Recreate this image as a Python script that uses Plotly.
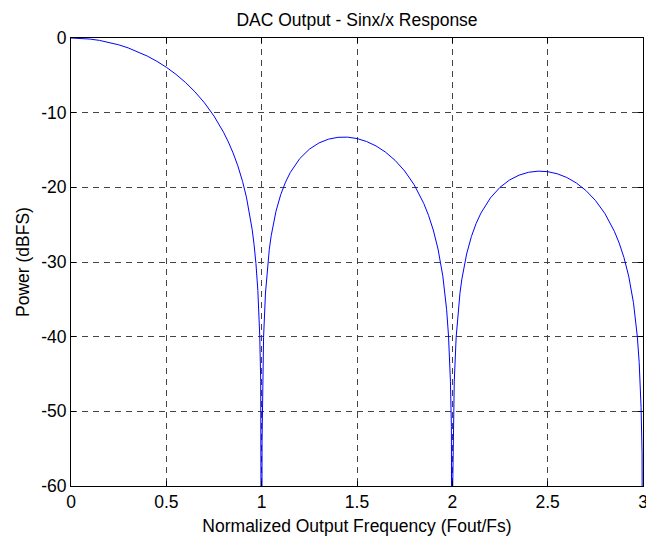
import plotly.graph_objects as go

# Normalized output frequency (Fout/Fs) and the DAC sinx/x power response in dBFS.
# The nulls at integer multiples of Fs are deep notches; they are stored as a
# floor value below the visible range so the trace runs off the bottom axis.
freq = [
    0.0, 0.05, 0.1, 0.15, 0.2, 0.25, 0.3, 0.35, 0.4, 0.45,
    0.5, 0.55, 0.6, 0.65, 0.7, 0.75, 0.8, 0.825, 0.85, 0.875,
    0.9, 0.92, 0.94, 0.95, 0.96, 0.97, 0.98, 0.99, 0.995, 0.998,
    1.0,
    1.002, 1.005, 1.01, 1.02, 1.03, 1.04, 1.05, 1.075, 1.1, 1.125,
    1.15, 1.2, 1.25, 1.3, 1.35, 1.4, 1.45, 1.5, 1.55, 1.6,
    1.65, 1.7, 1.75, 1.8, 1.85, 1.875, 1.9, 1.925, 1.95, 1.96,
    1.97, 1.98, 1.99, 1.995, 1.998,
    2.0,
    2.002, 2.005, 2.01, 2.02, 2.03, 2.04, 2.05, 2.075, 2.1, 2.125,
    2.15, 2.2, 2.25, 2.3, 2.35, 2.4, 2.45, 2.5, 2.55, 2.6,
    2.65, 2.7, 2.75, 2.8, 2.85, 2.875, 2.9, 2.925, 2.95, 2.96,
    2.97, 2.98, 2.99, 2.995,
    3.0,
]
power_dbfs = [
    0.0, -0.036, -0.143, -0.324, -0.579, -0.912, -1.326, -1.827, -2.420, -3.115,
    -3.922, -4.858, -5.942, -7.204, -8.686, -10.455, -12.620, -13.911, -15.390, -17.126,
    -19.228, -21.305, -23.951, -25.610, -27.627, -30.206, -33.809, -39.914, -45.978, -53.962,
    -100.0,
    -53.997, -46.065, -40.088, -34.157, -30.727, -28.322, -26.480, -23.208, -20.971, -19.309,
    -18.016, -16.142, -14.891, -14.063, -13.552, -13.302, -13.278, -13.465, -13.857, -14.461,
    -15.295, -16.393, -17.814, -19.664, -22.146, -23.746, -25.718, -28.268, -31.857, -33.827,
    -36.360, -39.919, -45.979, -52.020, -59.991,
    -100.0,
    -60.009, -52.063, -46.065, -40.092, -36.621, -34.175, -32.291, -28.920, -26.588, -24.833,
    -23.451, -21.407, -19.997, -19.018, -18.367, -17.983, -17.834, -17.902, -18.181, -18.678,
    -19.410, -20.411, -21.740, -23.502, -25.899, -27.459, -29.391, -31.902, -35.453, -37.407,
    -39.926, -43.470, -49.515, -55.549,
    -100.0,
]

x_ticks = [0, 0.5, 1, 1.5, 2, 2.5, 3]
x_tick_text = ["0", "0.5", "1", "1.5", "2", "2.5", "3"]
y_ticks = [-60, -50, -40, -30, -20, -10, 0]
y_tick_text = ["-60", "-50", "-40", "-30", "-20", "-10", "0"]

FONT = "Liberation Sans, Arial, Helvetica, sans-serif"
FONT_SIZE = 17.5

fig = go.Figure(
    go.Scatter(
        x=freq,
        y=power_dbfs,
        mode="lines",
        line=dict(color="#0000FF", width=1),
        hoverinfo="skip",
    )
)

axis_common = dict(
    automargin=False,
    showline=True,
    linecolor="black",
    linewidth=1,
    mirror="ticks",
    ticks="inside",
    ticklen=5,
    tickwidth=1,
    tickcolor="black",
    showgrid=True,
    gridcolor="#444444",
    gridwidth=1,
    griddash="6px,5px",
    zeroline=False,
    tickfont=dict(family=FONT, size=FONT_SIZE, color="black"),
)

fig.update_xaxes(
    range=[0, 3],
    tickvals=x_ticks,
    ticktext=x_tick_text,
    ticklabeloverflow="allow",
    title=dict(
        text="Normalized Output Frequency (Fout/Fs)",
        font=dict(family=FONT, size=FONT_SIZE, color="black"),
        standoff=10,
    ),
    **axis_common,
)
fig.update_yaxes(
    range=[-60, 0],
    tickvals=y_ticks,
    ticktext=y_tick_text,
    title=dict(
        text="Power (dBFS)",
        font=dict(family=FONT, size=FONT_SIZE, color="black"),
        standoff=7,
    ),
    **axis_common,
)

fig.update_layout(
    width=646,
    height=536,
    margin=dict(l=71, r=3, t=38, b=50),
    paper_bgcolor="white",
    plot_bgcolor="white",
    showlegend=False,
    title=dict(
        text="DAC Output - Sinx/x Response",
        font=dict(family=FONT, size=FONT_SIZE, color="black"),
        x=(71 + 643) / 2 / 646,
        xanchor="center",
        y=1 - 20 / 536,
        yanchor="middle",
        xref="container",
        yref="container",
    ),
)

fig.write_html("out.html")
